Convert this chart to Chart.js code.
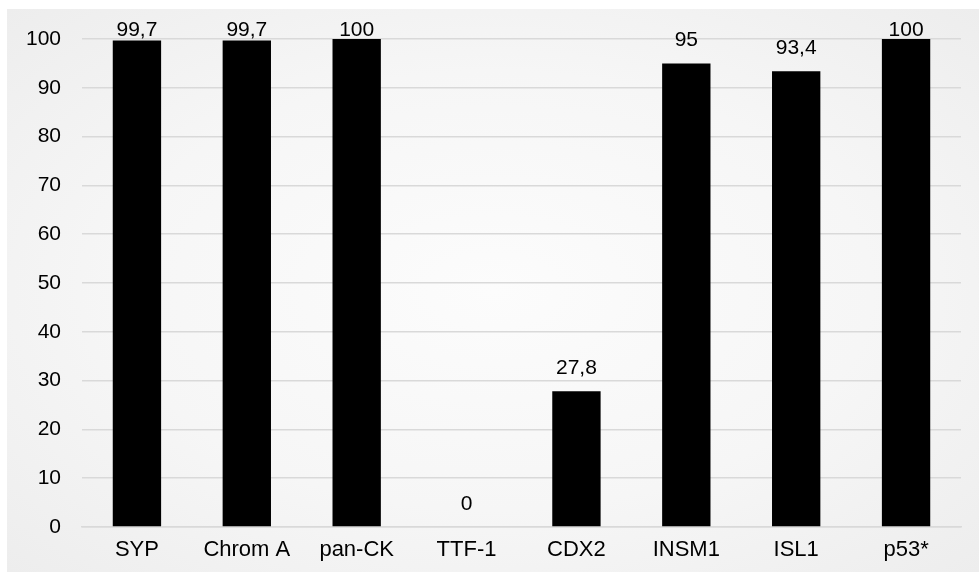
<!DOCTYPE html>
<html>
<head>
<meta charset="utf-8">
<script src="https://cdn.jsdelivr.net/npm/chart.js@4.4.1/dist/chart.umd.min.js"></script>
<style>
  html, body { margin: 0; padding: 0; background: #ffffff; }
  #wrap { position: relative; width: 979px; height: 578px; }
  #panel {
    position: absolute; left: 7px; top: 9px; width: 972px; height: 563px;
    background: radial-gradient(ellipse at 50% 50%, #fcfcfc 0%, #f6f6f6 55%, #ededed 100%);
  }
  #c { position: absolute; left: 0; top: 0; }
</style>
</head>
<body>
<div id="wrap">
  <div id="panel"></div>
  <canvas id="c" width="979" height="578"></canvas>
</div>
<script>
const categories = ['SYP', 'Chrom A', 'pan-CK', 'TTF-1', 'CDX2', 'INSM1', 'ISL1', 'p53*'];
const values = [99.7, 99.7, 100, 0, 27.8, 95, 93.4, 100];
const yTicks = [0, 10, 20, 30, 40, 50, 60, 70, 80, 90, 100];

const FONT = '"Liberation Sans", Arial, sans-serif';

// Value labels above each bar, decimal comma, kept inside the top of the panel
const valueLabels = {
  id: 'valueLabels',
  afterDatasetsDraw(chart) {
    const ctx = chart.ctx;
    const meta = chart.getDatasetMeta(0);
    ctx.save();
    ctx.font = '21px ' + FONT;
    ctx.fillStyle = '#000000';
    ctx.textAlign = 'center';
    ctx.textBaseline = 'alphabetic';
    meta.data.forEach((bar, i) => {
      const txt = String(values[i]).replace('.', ',');
      const y = Math.max(bar.y - 17, chart.chartArea.top - 3);
      ctx.fillText(txt, bar.x, y);
    });
    ctx.restore();
  }
};

new Chart(document.getElementById('c'), {
  type: 'bar',
  data: {
    labels: categories,
    datasets: [{
      data: values,
      backgroundColor: '#000000',
      borderWidth: 0,
      barPercentage: 0.44,
      categoryPercentage: 1.0
    }]
  },
  options: {
    responsive: false,
    animation: false,
    layout: { padding: { top: 39, right: 18, left: 0, bottom: 0 } },
    plugins: {
      legend: { display: false },
      tooltip: { enabled: false }
    },
    scales: {
      x: {
        grid: { display: false, drawTicks: false },
        border: { display: true, color: '#d9d9d9', width: 1.5 },
        ticks: { color: '#000000', font: { family: FONT, size: 22 }, padding: 10, maxRotation: 0 },
        afterFit(scale) { scale.height = 51; }
      },
      y: {
        min: 0,
        max: 100,
        afterBuildTicks(scale) { scale.ticks = yTicks.map(v => ({ value: v })); },
        grid: { color: '#d9d9d9', lineWidth: 1.5, drawTicks: false },
        border: { display: false },
        ticks: { color: '#000000', font: { family: FONT, size: 21 }, padding: 21 },
        afterFit(scale) { scale.width = 82; }
      }
    }
  },
  plugins: [valueLabels]
});
</script>
</body>
</html>
